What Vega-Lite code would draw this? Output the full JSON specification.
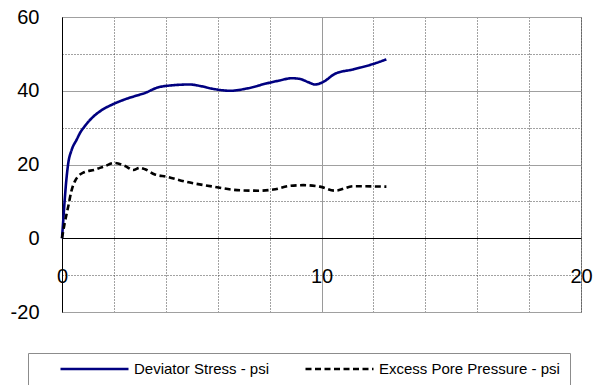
{
  "$schema": "https://vega.github.io/schema/vega-lite/v6.json",
  "width": 519,
  "height": 295,
  "autosize": {"type": "none"},
  "padding": {"left": 62, "top": 17, "right": 12, "bottom": 73},
  "background": "white",
  "config": {
    "font": "Liberation Sans",
    "view": {"stroke": "#8c8c8c", "strokeWidth": 1},
    "legend": {
      "orient": "none",
      "legendX": -34,
      "legendY": 336,
      "direction": "horizontal",
      "strokeColor": "#8c8c8c",
      "padding": 10,
      "symbolType": "stroke",
      "symbolSize": 4624,
      "clipHeight": 12,
      "symbolStrokeWidth": 2.5,
      "labelFontSize": 15,
      "labelColor": "black",
      "labelOffset": 4,
      "labelLimit": 400,
      "columnPadding": 34,
      "titleOrient": "left",
      "titleFontSize": 15,
      "titlePadding": 21
    }
  },
  "data": {
    "values": [
      {"strain": 0, "value": 0, "series": "Deviator Stress - psi"},
      {"strain": 0.05, "value": 5, "series": "Deviator Stress - psi"},
      {"strain": 0.1, "value": 10, "series": "Deviator Stress - psi"},
      {"strain": 0.17, "value": 16, "series": "Deviator Stress - psi"},
      {"strain": 0.24, "value": 20.3, "series": "Deviator Stress - psi"},
      {"strain": 0.37, "value": 23.9, "series": "Deviator Stress - psi"},
      {"strain": 0.57, "value": 26.8, "series": "Deviator Stress - psi"},
      {"strain": 0.69, "value": 28.5, "series": "Deviator Stress - psi"},
      {"strain": 0.89, "value": 30.5, "series": "Deviator Stress - psi"},
      {"strain": 1.21, "value": 33, "series": "Deviator Stress - psi"},
      {"strain": 1.5, "value": 34.6, "series": "Deviator Stress - psi"},
      {"strain": 1.98, "value": 36.4, "series": "Deviator Stress - psi"},
      {"strain": 2.4, "value": 37.6, "series": "Deviator Stress - psi"},
      {"strain": 2.88, "value": 38.7, "series": "Deviator Stress - psi"},
      {"strain": 3.2, "value": 39.4, "series": "Deviator Stress - psi"},
      {"strain": 3.65, "value": 40.8, "series": "Deviator Stress - psi"},
      {"strain": 4.29, "value": 41.5, "series": "Deviator Stress - psi"},
      {"strain": 4.93, "value": 41.7, "series": "Deviator Stress - psi"},
      {"strain": 5.32, "value": 41.3, "series": "Deviator Stress - psi"},
      {"strain": 5.83, "value": 40.5, "series": "Deviator Stress - psi"},
      {"strain": 6.48, "value": 40.0, "series": "Deviator Stress - psi"},
      {"strain": 7.12, "value": 40.6, "series": "Deviator Stress - psi"},
      {"strain": 7.89, "value": 42.0, "series": "Deviator Stress - psi"},
      {"strain": 8.4, "value": 42.8, "series": "Deviator Stress - psi"},
      {"strain": 8.85, "value": 43.4, "series": "Deviator Stress - psi"},
      {"strain": 9.17, "value": 43.2, "series": "Deviator Stress - psi"},
      {"strain": 9.5, "value": 42.3, "series": "Deviator Stress - psi"},
      {"strain": 9.75, "value": 41.7, "series": "Deviator Stress - psi"},
      {"strain": 10.07, "value": 42.4, "series": "Deviator Stress - psi"},
      {"strain": 10.52, "value": 44.6, "series": "Deviator Stress - psi"},
      {"strain": 11.23, "value": 45.8, "series": "Deviator Stress - psi"},
      {"strain": 11.87, "value": 47.0, "series": "Deviator Stress - psi"},
      {"strain": 12.5, "value": 48.5, "series": "Deviator Stress - psi"},
      {"strain": 0, "value": 0, "series": "Excess Pore Pressure - psi"},
      {"strain": 0.1, "value": 4, "series": "Excess Pore Pressure - psi"},
      {"strain": 0.24, "value": 8.6, "series": "Excess Pore Pressure - psi"},
      {"strain": 0.37, "value": 13, "series": "Excess Pore Pressure - psi"},
      {"strain": 0.5, "value": 15.5, "series": "Excess Pore Pressure - psi"},
      {"strain": 0.82, "value": 17.8, "series": "Excess Pore Pressure - psi"},
      {"strain": 1.27, "value": 18.6, "series": "Excess Pore Pressure - psi"},
      {"strain": 1.66, "value": 19.6, "series": "Excess Pore Pressure - psi"},
      {"strain": 2.02, "value": 20.4, "series": "Excess Pore Pressure - psi"},
      {"strain": 2.43, "value": 19.6, "series": "Excess Pore Pressure - psi"},
      {"strain": 2.75, "value": 18.5, "series": "Excess Pore Pressure - psi"},
      {"strain": 3.0, "value": 19.1, "series": "Excess Pore Pressure - psi"},
      {"strain": 3.2, "value": 18.7, "series": "Excess Pore Pressure - psi"},
      {"strain": 3.58, "value": 17.3, "series": "Excess Pore Pressure - psi"},
      {"strain": 4.03, "value": 16.7, "series": "Excess Pore Pressure - psi"},
      {"strain": 4.8, "value": 15.3, "series": "Excess Pore Pressure - psi"},
      {"strain": 5.83, "value": 14.0, "series": "Excess Pore Pressure - psi"},
      {"strain": 6.86, "value": 13.0, "series": "Excess Pore Pressure - psi"},
      {"strain": 7.6, "value": 12.9, "series": "Excess Pore Pressure - psi"},
      {"strain": 8.14, "value": 13.2, "series": "Excess Pore Pressure - psi"},
      {"strain": 8.79, "value": 14.2, "series": "Excess Pore Pressure - psi"},
      {"strain": 9.3, "value": 14.4, "series": "Excess Pore Pressure - psi"},
      {"strain": 9.94, "value": 14.0, "series": "Excess Pore Pressure - psi"},
      {"strain": 10.52, "value": 12.9, "series": "Excess Pore Pressure - psi"},
      {"strain": 11.23, "value": 14.1, "series": "Excess Pore Pressure - psi"},
      {"strain": 12.5, "value": 14.0, "series": "Excess Pore Pressure - psi"}
    ]
  },
  "mark": {"type": "line", "strokeWidth": 2.6, "interpolate": "monotone"},
  "encoding": {
    "x": {
      "field": "strain",
      "type": "quantitative",
      "scale": {"domain": [0, 20], "nice": false, "zero": false},
      "axis": {
        "title": null,
        "values": [0, 2, 4, 6, 8, 10, 12, 14, 16, 18, 20],
        "labelExpr": "datum.value % 10 === 0 ? '' + datum.value : ''",
        "labelFlush": false,
        "labelOverlap": false,
        "offset": -74,
        "domainColor": "black",
        "domainWidth": 1,
        "ticks": false,
        "labelPadding": 28,
        "labelFontSize": 20,
        "labelColor": "black",
        "gridColor": {"condition": {"test": "datum.value === 10", "value": "#9a9a9a"}, "value": "#444444"},
        "gridDash": {"condition": {"test": "datum.value === 10", "value": []}, "value": [1, 2]},
        "gridWidth": 1,
        "gridOpacity": 1
      }
    },
    "y": {
      "field": "value",
      "type": "quantitative",
      "scale": {"domain": [-20, 60], "nice": false, "zero": false},
      "axis": {
        "title": null,
        "values": [-20, -10, 0, 10, 20, 30, 40, 50, 60],
        "labelExpr": "datum.value % 20 === 0 ? '' + datum.value : ''",
        "labelOverlap": false,
        "labelFlush": false,
        "domainColor": "black",
        "domainWidth": 1,
        "ticks": false,
        "labelPadding": 23,
        "labelFontSize": 20,
        "labelColor": "black",
        "gridColor": {"condition": {"test": "datum.value % 20 === 0", "value": "#a0a0a0"}, "value": "#444444"},
        "gridDash": {"condition": {"test": "datum.value % 20 === 0", "value": []}, "value": [1, 2]},
        "gridWidth": 1,
        "gridOpacity": 1
      }
    },
    "color": {
      "field": "series",
      "type": "nominal",
      "scale": {"domain": ["Deviator Stress - psi", "Excess Pore Pressure - psi"], "range": ["#000080", "#000000"]},
      "legend": {"title": "\u00a0"}
    },
    "strokeDash": {
      "field": "series",
      "type": "nominal",
      "scale": {"domain": ["Deviator Stress - psi", "Excess Pore Pressure - psi"], "range": [[1, 0], [6, 3.5]]},
      "legend": {"title": "\u00a0"}
    }
  }
}
